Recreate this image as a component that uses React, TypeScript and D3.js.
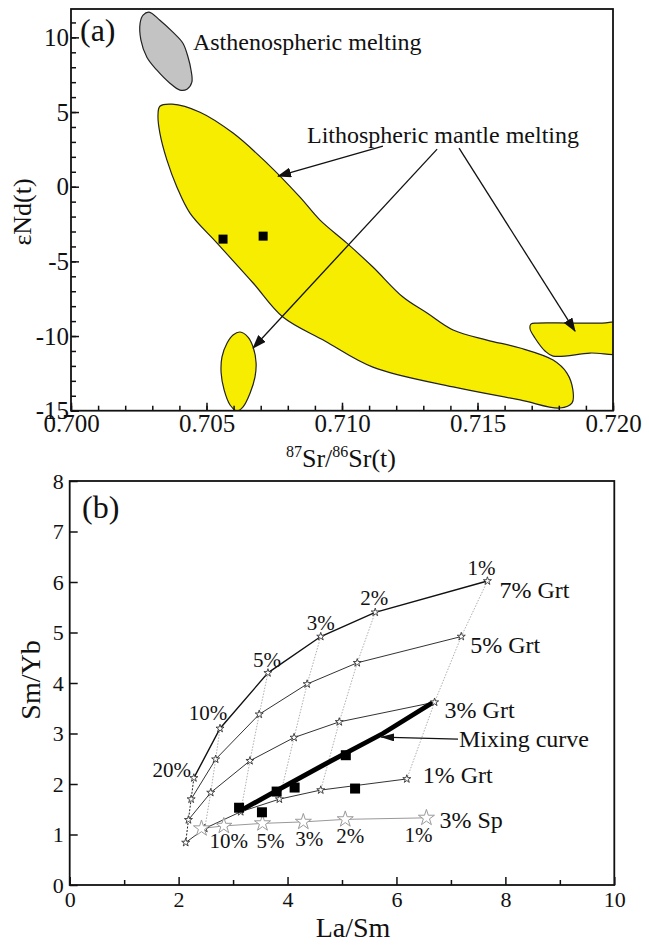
import * as d3 from "d3";
import { useRef, useEffect } from "react";

// ---- panel (a): 87Sr/86Sr(t) vs eNd(t)
const srTicks = [0.7, 0.705, 0.71, 0.715, 0.72];
const ndTicks = [-15, -10, -5, 0, 5, 10];
const sampleSr = [0.70561, 0.70709];
const sampleNd = [-3.51, -3.31];

const asthenoField = [
  [0.70288, 11.69], [0.70328, 11.15], [0.70376, 10.35], [0.70413, 9.61], [0.70432, 8.67],
  [0.70443, 7.8], [0.70446, 7.0], [0.70428, 6.53], [0.70402, 6.47], [0.70365, 6.93],
  [0.70317, 7.8], [0.7028, 8.67], [0.70258, 9.81], [0.70255, 10.95], [0.70266, 11.49],
];
const lithoMain = [
  [0.70328, 5.39], [0.70373, 5.53], [0.70476, 4.99], [0.70598, 3.59], [0.70723, 1.58],
  [0.70845, -0.7], [0.70919, -2.24], [0.71018, -3.78], [0.71114, -5.38], [0.71225, -7.39],
  [0.71314, -8.46], [0.7141, -9.6], [0.71535, -10.27], [0.71657, -10.8], [0.71779, -11.61],
  [0.7183, -12.48], [0.71852, -13.61], [0.71849, -14.48], [0.71804, -14.82], [0.71657, -14.28],
  [0.7141, -13.41], [0.71114, -12.08], [0.70937, -10.33], [0.70782, -8.73], [0.70672, -6.45],
  [0.70539, -3.78], [0.70439, -1.77], [0.70391, -0.03], [0.70354, 1.78], [0.70328, 3.59],
  [0.70321, 4.79],
];
const lithoSmall = [
  [0.70624, -9.73], [0.70653, -10.07], [0.70672, -10.74], [0.70683, -11.81], [0.70679, -12.74],
  [0.70661, -13.82], [0.70635, -14.75], [0.70613, -15.02], [0.70587, -14.62], [0.70565, -13.61],
  [0.70554, -12.48], [0.70557, -11.41], [0.70576, -10.47], [0.70598, -9.93],
];
const lithoRight = [
  [0.7172, -9.13], [0.7184, -9.13], [0.7196, -9.13], [0.72044, -9.13], [0.72044, -11.07],
  [0.71915, -11.14], [0.71779, -11.34], [0.71749, -11.0], [0.71712, -10.13], [0.71694, -9.53],
  [0.71697, -9.2],
];
const arrowFromA = [[0.71151, 2.72], [0.71351, 2.52], [0.71432, 2.58]];
const arrowToA = [[0.70764, 0.71], [0.70672, -10.8], [0.7186, -9.67]];

// ---- panel (b): La/Sm vs Sm/Yb melting model
const laSmTicks = [0, 2, 4, 6, 8, 10];
const smYbTicks = [0, 1, 2, 3, 4, 5, 6, 7, 8];
const meltDegrees = ["20%", "10%", "5%", "3%", "2%", "1%"];
const grtNames = ["7% Grt", "5% Grt", "3% Grt", "1% Grt"];
const grt7LaSm = [2.28, 2.76, 3.64, 4.61, 5.61, 7.67];
const grt7SmYb = [2.12, 3.1, 4.2, 4.92, 5.4, 6.02];
const grt5LaSm = [2.23, 2.68, 3.48, 4.36, 5.28, 7.19];
const grt5SmYb = [1.7, 2.49, 3.38, 3.98, 4.4, 4.92];
const grt3LaSm = [2.18, 2.59, 3.31, 4.12, 4.95, 6.7];
const grt3SmYb = [1.29, 1.83, 2.46, 2.92, 3.23, 3.62];
const grt1LaSm = [2.13, 2.48, 3.14, 3.85, 4.61, 6.19];
const grt1SmYb = [0.84, 1.12, 1.45, 1.7, 1.88, 2.1];
const sp3LaSm = [2.42, 2.83, 3.54, 4.29, 5.06, 6.55];
const sp3SmYb = [1.12, 1.17, 1.22, 1.25, 1.3, 1.33];
const mixLaSm = [3.1, 3.8, 4.8, 5.75, 6.66];
const mixSmYb = [1.45, 1.87, 2.46, 3.0, 3.61];
const sampleLaSm = [3.11, 3.53, 3.8, 4.13, 5.07, 5.24];
const sampleSmYb = [1.53, 1.44, 1.85, 1.93, 2.57, 1.91];
const mixArrowFrom = [7.13, 2.89];
const mixArrowTo = [5.72, 2.93];

const FONT = "'Liberation Serif', 'Times New Roman', serif";

export default function App() {
  const ref = useRef<SVGSVGElement>(null);

  useEffect(() => {
    const svg = d3.select(ref.current);
    svg.selectAll("*").remove();

    const defs = svg.append("defs");
    defs.append("marker").attr("id", "headA").attr("markerUnits", "userSpaceOnUse")
      .attr("markerWidth", 14).attr("markerHeight", 10).attr("refX", 13).attr("refY", 5)
      .attr("orient", "auto")
      .append("path").attr("d", "M0,0 L14,5 L0,10 Z").attr("fill", "#111");
    defs.append("marker").attr("id", "headB").attr("markerUnits", "userSpaceOnUse")
      .attr("markerWidth", 14).attr("markerHeight", 8).attr("refX", 13).attr("refY", 4)
      .attr("orient", "auto")
      .append("path").attr("d", "M0,0 L14,4 L0,8 Z").attr("fill", "#111");

    // ================= panel (a)
    const xA = d3.scaleLinear().domain([0.7, 0.72]).range([71, 613]);
    const yA = d3.scaleLinear().domain([-15, 11.9]).range([410.7, 9]);

    defs.append("clipPath").attr("id", "clipA").append("rect")
      .attr("x", 71).attr("y", 9).attr("width", 613 - 71).attr("height", 410.7 - 9);

    const gA = svg.append("g");
    const field = d3.line<number[]>().x(d => xA(d[0])).y(d => yA(d[1]))
      .curve(d3.curveCatmullRomClosed.alpha(0.5));
    const plotA = gA.append("g").attr("clip-path", "url(#clipA)");
    plotA.append("path").attr("d", field(asthenoField)).attr("fill", "#c3c3c3").attr("stroke", "#222").attr("stroke-width", 1.2);
    [lithoMain, lithoSmall, lithoRight].forEach(f => {
      plotA.append("path").attr("d", field(f)).attr("fill", "#f6ed00").attr("stroke", "#222").attr("stroke-width", 1.2);
    });

    plotA.selectAll("rect.s").data(sampleSr).enter().append("rect")
      .attr("x", (d) => xA(d) - 4.5).attr("y", (d, i) => yA(sampleNd[i]) - 4.5)
      .attr("width", 9).attr("height", 9).attr("fill", "#000");

    arrowFromA.forEach((f, i) => {
      gA.append("line").attr("x1", xA(f[0])).attr("y1", yA(f[1]))
        .attr("x2", xA(arrowToA[i][0])).attr("y2", yA(arrowToA[i][1]))
        .attr("stroke", "#111").attr("stroke-width", 1.3).attr("marker-end", "url(#headA)");
    });

    gA.append("text").attr("x", xA(0.7045)).attr("y", yA(9.14)).text("Asthenospheric melting")
      .attr("font-family", FONT).attr("font-size", 24).attr("fill", "#111");
    gA.append("text").attr("x", xA(0.70871)).attr("y", yA(2.92)).text("Lithospheric mantle melting")
      .attr("font-family", FONT).attr("font-size", 24).attr("fill", "#111");
    gA.append("text").attr("x", 80).attr("y", 41).text("(a)")
      .attr("font-family", FONT).attr("font-size", 32).attr("fill", "#111");

    // axes (ticks pointing inward)
    const axBotA = gA.append("g").attr("transform", "translate(0,410.7)");
    axBotA.call(d3.axisBottom(xA).tickValues(d3.range(0, 21).map(i => 0.7 + i * 0.001)).tickSize(-5).tickFormat(() => ""));
    axBotA.call(g => g.select(".domain").remove());
    const axBotA2 = gA.append("g").attr("transform", "translate(0,410.7)");
    axBotA2.call(d3.axisBottom(xA).tickValues(srTicks).tickSize(-8).tickPadding(4).tickFormat(d3.format(".3f")));
    axBotA2.attr("font-size", 25).attr("font-family", FONT);
    axBotA2.select(".domain").remove();

    const axLeftA = gA.append("g").attr("transform", "translate(71,0)");
    axLeftA.call(d3.axisLeft(yA).tickValues(d3.range(-15, 12)).tickSize(-5).tickFormat(() => ""));
    axLeftA.select(".domain").remove();
    const axLeftA2 = gA.append("g").attr("transform", "translate(71,0)");
    axLeftA2.call(d3.axisLeft(yA).tickValues(ndTicks).tickSize(-8).tickPadding(2).tickFormat(d3.format("d")));
    axLeftA2.attr("font-size", 25).attr("font-family", FONT);
    axLeftA2.select(".domain").remove();
    [axBotA, axBotA2, axLeftA, axLeftA2].forEach(g => g.selectAll("line").attr("stroke", "#111").attr("stroke-width", 1.5));
    axLeftA2.selectAll("text").text(d => (d as number) < 0 ? "-" + Math.abs(d as number) : String(d));

    gA.append("rect").attr("x", 71).attr("y", 9).attr("width", 613 - 71).attr("height", 410.7 - 9)
      .attr("fill", "none").attr("stroke", "#111").attr("stroke-width", 1.8);

    const xlabA = gA.append("text").attr("x", 341).attr("y", 467).attr("text-anchor", "middle")
      .attr("font-family", FONT).attr("font-size", 26).attr("fill", "#111");
    xlabA.append("tspan").attr("font-size", 16).attr("dy", -10).text("87");
    xlabA.append("tspan").attr("dy", 10).text("Sr/");
    xlabA.append("tspan").attr("font-size", 16).attr("dy", -10).text("86");
    xlabA.append("tspan").attr("dy", 10).text("Sr(t)");

    gA.append("text").attr("transform", "translate(31,212) rotate(-90)").attr("text-anchor", "middle")
      .attr("font-family", FONT).attr("font-size", 26).attr("fill", "#111").text("εNd(t)");

    // ================= panel (b)
    const xB = d3.scaleLinear().domain([0, 10]).range([69.7, 614.3]);
    const yB = d3.scaleLinear().domain([0, 8]).range([885, 481]);
    const gB = svg.append("g");

    const grtLaSm = [grt7LaSm, grt5LaSm, grt3LaSm, grt1LaSm];
    const grtSmYb = [grt7SmYb, grt5SmYb, grt3SmYb, grt1SmYb];

    // dotted lines joining equal melt degrees
    meltDegrees.forEach((m, j) => {
      const pts = grtLaSm.map((xs, k) => [xB(xs[j]), yB(grtSmYb[k][j])] as [number, number]);
      gB.append("path").attr("d", d3.line()(pts)).attr("fill", "none")
        .attr("stroke", j === 0 ? "#222" : "#999").attr("stroke-width", j === 0 ? 1 : 0.8)
        .attr("stroke-dasharray", j === 0 ? "2,1.5" : "1.5,1.5");
    });

    // 3% Sp curve
    gB.append("path").attr("d", d3.line()(sp3LaSm.map((x, i) => [xB(x), yB(sp3SmYb[i])] as [number, number])))
      .attr("fill", "none").attr("stroke", "#999").attr("stroke-width", 1);

    // Grt curves
    grtLaSm.forEach((xs, k) => {
      gB.append("path").attr("d", d3.line()(xs.map((x, i) => [xB(x), yB(grtSmYb[k][i])] as [number, number])))
        .attr("fill", "none").attr("stroke", k === 0 ? "#111" : "#333").attr("stroke-width", k === 0 ? 1.4 : 1);
    });

    // mixing curve
    gB.append("path").attr("d", d3.line()(mixLaSm.map((x, i) => [xB(x), yB(mixSmYb[i])] as [number, number])))
      .attr("fill", "none").attr("stroke", "#000").attr("stroke-width", 4.8);

    // stars
    const smallStar = d3.symbol().type(d3.symbolStar).size(20)();
    const bigStar = d3.symbol().type(d3.symbolStar).size(80)();
    grtLaSm.forEach((xs, k) => {
      xs.forEach((x, i) => {
        gB.append("path").attr("d", smallStar).attr("transform", `translate(${xB(x)},${yB(grtSmYb[k][i])})`)
          .attr("fill", "#fff").attr("stroke", "#333").attr("stroke-width", 0.9);
      });
    });
    sp3LaSm.forEach((x, i) => {
      gB.append("path").attr("d", bigStar).attr("transform", `translate(${xB(x)},${yB(sp3SmYb[i])})`)
        .attr("fill", "#fff").attr("stroke", "#9a9a9a").attr("stroke-width", 1);
    });

    // samples
    sampleLaSm.forEach((x, i) => {
      gB.append("rect").attr("x", xB(x) - 5).attr("y", yB(sampleSmYb[i]) - 5)
        .attr("width", 10).attr("height", 10).attr("fill", "#000");
    });

    // mixing arrow
    gB.append("line").attr("x1", xB(mixArrowFrom[0])).attr("y1", yB(mixArrowFrom[1]))
      .attr("x2", xB(mixArrowTo[0])).attr("y2", yB(mixArrowTo[1]))
      .attr("stroke", "#111").attr("stroke-width", 1.3).attr("marker-end", "url(#headB)");
    gB.append("text").attr("x", xB(mixArrowFrom[0]) + 1).attr("y", 747).text("Mixing curve")
      .attr("font-family", FONT).attr("font-size", 24).attr("fill", "#111");

    // melt degree labels along 7% Grt and 3% Sp
    const topOff = [[-22, -1], [-12, -8], [-1, -6], [0, -7], [-1, -7], [-6, -6]];
    meltDegrees.forEach((m, i) => {
      gB.append("text").attr("x", xB(grt7LaSm[i]) + topOff[i][0]).attr("y", yB(grt7SmYb[i]) + topOff[i][1])
        .attr("text-anchor", "middle").attr("font-family", FONT).attr("font-size", 21).attr("fill", "#111").text(m);
    });
    const spOff = [[5, 22], [8, 25], [6, 24], [5, 24], [-8, 24]];
    meltDegrees.slice(1).forEach((m, i) => {
      gB.append("text").attr("x", xB(sp3LaSm[i + 1]) + spOff[i][0]).attr("y", yB(sp3SmYb[i + 1]) + spOff[i][1])
        .attr("text-anchor", "middle").attr("font-family", FONT).attr("font-size", 21).attr("fill", "#111").text(m);
    });

    // curve names
    const nameOff = [[12, 17], [9, 16], [10, 16], [16, 4]];
    grtNames.forEach((n, k) => {
      gB.append("text").attr("x", xB(grtLaSm[k][5]) + nameOff[k][0]).attr("y", yB(grtSmYb[k][5]) + nameOff[k][1])
        .attr("font-family", FONT).attr("font-size", 24).attr("fill", "#111").text(n);
    });
    gB.append("text").attr("x", xB(sp3LaSm[5]) + 13).attr("y", yB(sp3SmYb[5]) + 10)
      .attr("font-family", FONT).attr("font-size", 24).attr("fill", "#111").text("3% Sp");

    gB.append("text").attr("x", 82).attr("y", 518).text("(b)")
      .attr("font-family", FONT).attr("font-size", 32).attr("fill", "#111");

    // axes
    const axBotB = gB.append("g").attr("transform", "translate(0,885)");
    axBotB.call(d3.axisBottom(xB).tickValues([1, 3, 5, 7, 9]).tickSize(-5).tickFormat(() => ""));
    axBotB.select(".domain").remove();
    const axBotB2 = gB.append("g").attr("transform", "translate(0,885)");
    axBotB2.call(d3.axisBottom(xB).tickValues(laSmTicks).tickSize(-8).tickPadding(6).tickFormat(d3.format("d")));
    axBotB2.attr("font-size", 22).attr("font-family", FONT);
    axBotB2.select(".domain").remove();
    const axLeftB = gB.append("g").attr("transform", "translate(69.7,0)");
    axLeftB.call(d3.axisLeft(yB).tickValues(smYbTicks).tickSize(-8).tickPadding(6).tickFormat(d3.format("d")));
    axLeftB.attr("font-size", 22).attr("font-family", FONT);
    axLeftB.select(".domain").remove();
    [axBotB, axBotB2, axLeftB].forEach(g => g.selectAll("line").attr("stroke", "#111").attr("stroke-width", 1.5));

    gB.append("rect").attr("x", 69.7).attr("y", 481).attr("width", 614.3 - 69.7).attr("height", 885 - 481)
      .attr("fill", "none").attr("stroke", "#111").attr("stroke-width", 1.8);

    gB.append("text").attr("x", 353).attr("y", 937).attr("text-anchor", "middle")
      .attr("font-family", FONT).attr("font-size", 28).attr("fill", "#111").text("La/Sm");
    gB.append("text").attr("transform", "translate(40,680) rotate(-90)").attr("text-anchor", "middle")
      .attr("font-family", FONT).attr("font-size", 28).attr("fill", "#111").text("Sm/Yb");

    svg.selectAll(".tick text").attr("fill", "#111");
  }, []);

  return (
    <svg ref={ref} width={649} height={945}
      style={{ position: "absolute", left: 0, top: 0, background: "#fff" }} />
  );
}
